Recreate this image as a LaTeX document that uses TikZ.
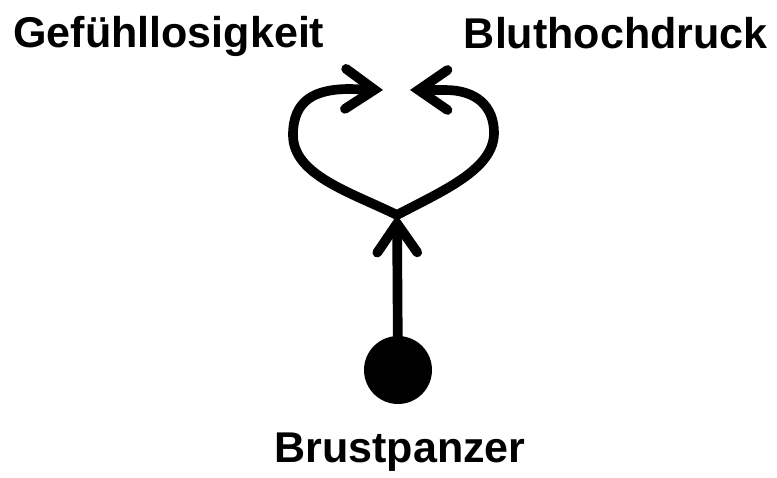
\documentclass[tikz,border=0pt]{standalone}
\usepackage{fontspec}
\setmainfont{Liberation Sans}
\usetikzlibrary{arrows.meta,calc}

\begin{document}
\begin{tikzpicture}[x=0.02cm, y=-0.02cm,
  stroke/.style={line width=5.5pt, line cap=round, line join=round},
  barb/.style={-{Straight Barb[length=0.58cm, width=0.8cm, line cap=round]}},
  word/.style={font=\fontsize{24.5}{29}\selectfont\bfseries, inner sep=0pt}]
  \useasboundingbox (0, 0) rectangle (777, 477);

  % Labels
  \node[word, anchor=base west] (gef) at (13, 47) {Gefühllosigkeit};
  \node[word, anchor=base east] (blut) at (768, 48) {Bluthochdruck};
  \node[word, anchor=base] (brust) at (400, 462) {Brustpanzer};

  % Dot and junction
  \node[circle, fill, inner sep=0pt, minimum size=1.36cm] (dot) at (398, 370) {};
  \coordinate (junc) at (397, 215);
  \coordinate (tipL) at (383, 90);
  \coordinate (tipR) at (410, 90);

  % Stem
  \draw[stroke, barb] (dot.center) -- (junc);

  % Left loop
  \draw[stroke, barb] (junc) .. controls (350, 192) and (293, 175) .. (293, 135)
    .. controls (293, 100) and (315, 89) .. (350, 89) -- (tipL);

  % Right loop
  \draw[stroke, barb] (junc) .. controls (440, 192) and (494, 170) .. (494, 133)
    .. controls (494, 106) and (476, 90) .. (445, 90) -- (tipR);
\end{tikzpicture}
\end{document}
